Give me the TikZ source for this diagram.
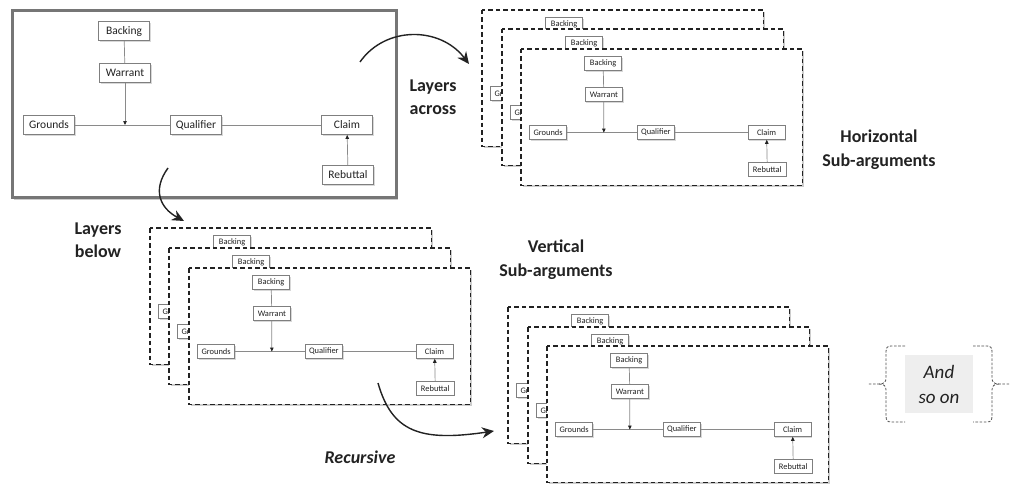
\documentclass[tikz,border=0pt]{standalone}
\usepackage{fontspec}
\setmainfont{Carlito}
\usetikzlibrary{arrows.meta,shadows}
\definecolor{boxline}{HTML}{7F7F7F}
\definecolor{conn}{HTML}{8A8A8A}
\definecolor{framegray}{HTML}{767676}
\definecolor{sogray}{HTML}{EEEEEE}
\definecolor{ink}{HTML}{222222}
\tikzset{
  x=1pt, y=1pt,
  tbox/.style={draw=boxline, line width=0.7pt, fill=white, minimum width=51pt,
    minimum height=19pt, inner sep=0pt, font=\fontsize{11.5}{13}\selectfont, text=ink,
    drop shadow={shadow xshift=1.2pt, shadow yshift=-1.2pt, opacity=0.3}},
  tline/.style={draw=conn, line width=0.7pt},
  ttip/.style={-{Triangle[length=4pt,width=3.5pt,color=ink]}},
  mainframe/.style={draw=framegray, line width=3pt, fill=white,
    drop shadow={shadow xshift=1.5pt, shadow yshift=-2.5pt, opacity=0.4}},
  layerframe/.style={draw=ink, line width=1.6pt, dash pattern=on 4.5pt off 3pt, fill=white,
    drop shadow={shadow xshift=2pt, shadow yshift=-2pt, opacity=0.4}},
  bigarrow/.style={line width=1.4pt, draw=ink, -{Stealth[length=12pt,width=11pt,inset=4pt]}},
  lbl/.style={font=\fontsize{18}{23}\selectfont\bfseries, align=center, text=ink},
  bracestyle/.style={draw=ink!80, line width=0.8pt, dash pattern=on 2.6pt off 1.6pt},
  toulmin/.pic={
    \draw[#1] (0,0) rectangle (384,-186);
    \node[tbox] (-backing) at (112,-20) {Backing};
    \node[tbox] (-warrant) at (113,-62) {Warrant};
    \node[tbox] (-grounds) at (37,-114) {Grounds};
    \node[tbox] (-qualifier) at (184,-114) {Qualifier};
    \node[tbox] (-claim) at (335,-114) {Claim};
    \node[tbox] (-rebuttal) at (336,-164) {Rebuttal};
    \coordinate (-join) at (113,-114);
    \draw[tline] (-backing) -- (-warrant);
    \draw[tline] (-grounds) -- (-qualifier);
    \draw[tline] (-qualifier) -- (-claim);
    \draw[tline,ttip] (-warrant) -- (-join);
    \draw[tline,ttip] (-rebuttal) -- (-claim);
  },
  backlayer/.pic={
    \draw[layerframe] (0,0) rectangle (384,-186);
    \node[tbox] (-backing) at (112,-20) {Backing};
    \node[tbox] (-grounds) at (37,-114) {Grounds};
  }
}
\begin{document}
\begin{tikzpicture}
\useasboundingbox (0,0) rectangle (1011,-487);

% main diagram
\pic (M) at (12,-11) {toulmin=mainframe};

% horizontal layers
\pic[scale=0.733, transform shape] (H1) at (482,-10) {backlayer};
\pic[scale=0.733, transform shape] (H2) at (502,-29) {backlayer};
\pic[scale=0.733, transform shape] (H3) at (521,-49) {toulmin=layerframe};

% vertical layers
\pic[scale=0.733, transform shape] (V1) at (150,-228) {backlayer};
\pic[scale=0.733, transform shape] (V2) at (169,-248) {backlayer};
\pic[scale=0.733, transform shape] (V3) at (189,-268) {toulmin=layerframe};

% recursive layers
\pic[scale=0.733, transform shape] (R1) at (508,-307) {backlayer};
\pic[scale=0.733, transform shape] (R2) at (528,-327) {backlayer};
\pic[scale=0.733, transform shape] (R3) at (547,-346) {toulmin=layerframe};

% labels
\node[lbl] (across) at (433,-97) {Layers\\across};
\node[lbl] (below) at (98,-240) {Layers\\below};
\node[lbl, font=\fontsize{18}{24}\selectfont\bfseries] (horiz) at (879,-150) {Horizontal\\Sub-arguments};
\node[lbl, font=\fontsize{18}{24}\selectfont\bfseries] (vert) at (556,-260) {Vertical\\Sub-arguments};
\node[lbl, font=\fontsize{18}{23}\selectfont\bfseries\itshape] (recursive) at (360,-457) {Recursive};

% curved arrows
\coordinate (acrossStart) at (360,-62);
\coordinate (acrossEnd) at (469,-64);
\draw[bigarrow] (acrossStart) .. controls (385,-26) and (440,-26) .. (acrossEnd);
\coordinate (belowStart) at (168,-168);
\coordinate (belowEnd) at (184,-221);
\draw[bigarrow] (belowStart) .. controls (152,-190) and (160,-208) .. (belowEnd);
\coordinate (recStart) at (378,-383);
\coordinate (recEnd) at (494,-431);
\draw[bigarrow] (recStart) .. controls (392,-432) and (420,-442) .. (recEnd);

% and so on
\node[fill=sogray, minimum width=68pt, minimum height=58pt, inner sep=0pt,
  font=\fontsize{19}{25}\selectfont\itshape, align=center, text=ink] (andso) at (939,-384) {And\\so on};
\draw[bracestyle] (905,-346) -- (891,-346) .. controls (887,-346) and (886,-348) .. (886,-352)
  -- (886,-378) .. controls (886,-382) and (884,-384) .. (879,-384) -- (868,-384);
\draw[bracestyle] (879,-384) .. controls (884,-384) and (886,-386) .. (886,-390)
  -- (886,-416) .. controls (886,-420) and (887,-422) .. (891,-422) -- (905,-422);
\draw[bracestyle] (973,-346) -- (987,-346) .. controls (991,-346) and (992,-348) .. (992,-352)
  -- (992,-378) .. controls (992,-382) and (994,-384) .. (999,-384) -- (1010,-384);
\draw[bracestyle] (999,-384) .. controls (994,-384) and (992,-386) .. (992,-390)
  -- (992,-416) .. controls (992,-420) and (991,-422) .. (987,-422) -- (973,-422);
\end{tikzpicture}
\end{document}
